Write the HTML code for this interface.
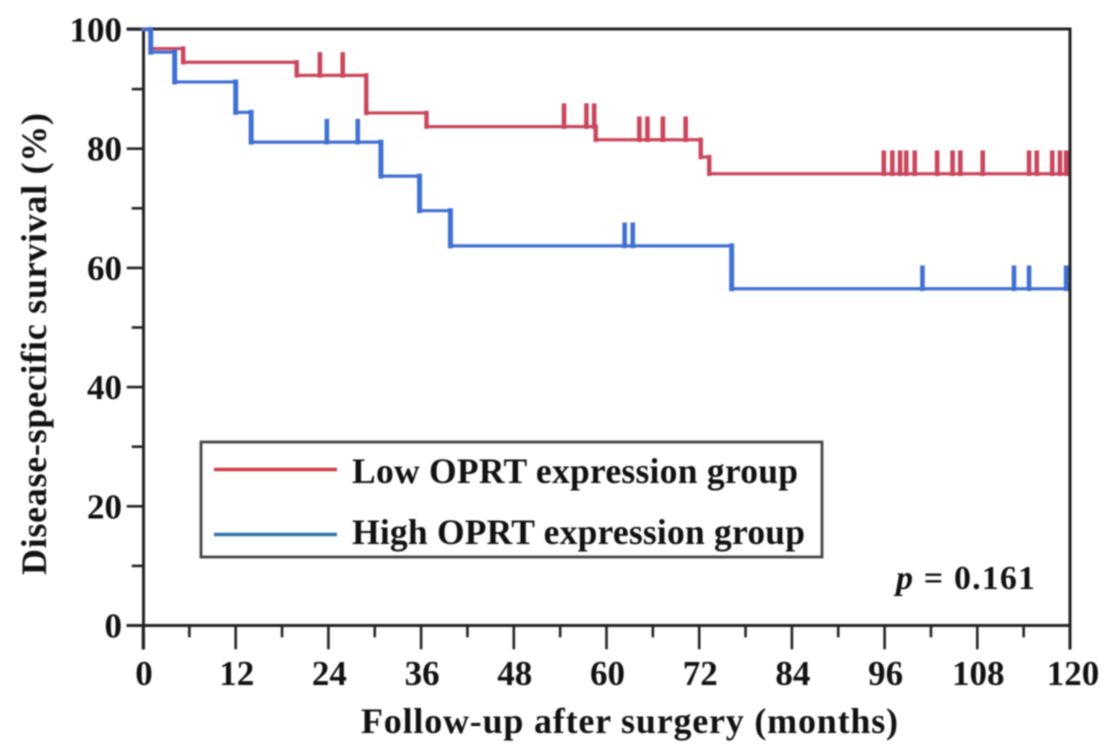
<!DOCTYPE html>
<html>
<head>
<meta charset="utf-8">
<title>Disease-specific survival by OPRT expression</title>
<style>
html,body{margin:0;padding:0;background:#fff;width:1116px;height:755px;overflow:hidden}
svg{display:block;filter:blur(0.7px)}
text{font-family:"Liberation Serif",serif;font-weight:bold;fill:#111}
</style>
</head>
<body>
<svg id="chart" xmlns="http://www.w3.org/2000/svg" width="1116" height="755" viewBox="0 0 1116 755">
  <rect x="0" y="0" width="1116" height="755" fill="#fff"/>
  <g id="axes"></g>
  <g id="series"></g>
  <text x="361" y="733" font-size="36" textLength="537">Follow-up after surgery (months)</text>
  <text transform="translate(46,575) rotate(-90)" font-size="36" textLength="462">Disease-specific survival (%)</text>
  <g>
    <rect x="201" y="442" width="621" height="115" fill="#fff" stroke="#444" stroke-width="2.8"/>
    <line x1="214" x2="337" y1="469.5" y2="469.5" stroke="#cf3a48" stroke-width="3.4"/>
    <text x="352" y="483" font-size="35.5" textLength="446">Low OPRT expression group</text>
    <line x1="214" x2="337" y1="534.5" y2="534.5" stroke="#2f74a8" stroke-width="3.4"/>
    <text x="352" y="544" font-size="35.5" textLength="453">High OPRT expression group</text>
  </g>
  <text x="896" y="589" font-size="34" textLength="139"><tspan font-style="italic">p</tspan> = 0.161</text>
</svg>
<script>
const xMajorTicks = [0, 12, 24, 36, 48, 60, 72, 84, 96, 108, 120];
const xMinorTicks = [6, 18, 30, 42, 54, 66, 78, 90, 102, 114];
const yMajorTicks = [0, 20, 40, 60, 80, 100];
const yMinorTicks = [10, 30, 50, 70, 90];

const lowTimes = [1, 5.2, 19.9, 28.9, 36.7, 58.6, 72.2, 73.3];
const lowSurvival = [96.8, 94.5, 92.3, 86, 83.7, 81.5, 78.6, 75.8];
const lowCensored = [22.9, 25.85, 54.5, 57.4, 58.4, 64.25, 65.3, 67.3, 70.25, 95.9, 97, 98, 98.8, 99.9, 102.8, 104.8, 105.8, 108.7, 114.7, 115.7, 117.7, 118.7, 119.5];

const highTimes = [1, 4.1, 12, 14, 30.8, 35.8, 39.8, 76.2];
const highSurvival = [96.2, 91.2, 86.1, 81.1, 75.4, 69.6, 63.7, 56.5];
const highCensored = [23.8, 27.8, 62.35, 63.4, 100.9, 112.75, 114.7, 119.5];

const followUpEnd = 119.6;

const NS = 'http://www.w3.org/2000/svg';
const xScale = m => 143 + (1070 - 143) * m / 120;
const yScale = v => 625.5 - (625.5 - 29.5) * v / 100;

function makeLine(parent, x1, y1, x2, y2, color, width) {
  const el = document.createElementNS(NS, 'line');
  el.setAttribute('x1', x1);
  el.setAttribute('y1', y1);
  el.setAttribute('x2', x2);
  el.setAttribute('y2', y2);
  el.setAttribute('stroke', color);
  el.setAttribute('stroke-width', width);
  el.setAttribute('stroke-linecap', 'square');
  parent.appendChild(el);
  return el;
}

function makeLabel(parent, x, y, anchor, content) {
  const el = document.createElementNS(NS, 'text');
  el.setAttribute('x', x);
  el.setAttribute('y', y);
  el.setAttribute('text-anchor', anchor);
  el.setAttribute('font-size', '35');
  el.textContent = content;
  parent.appendChild(el);
  return el;
}

const axes = document.getElementById('axes');
const AXIS = '#222';

xMajorTicks.forEach(t => {
  const tick = makeLine(axes, xScale(t), 626, xScale(t), 648, AXIS, 2.6);
  
  
  const label = makeLabel(axes, xScale(t) + (t === 120 ? 3 : 1), 685, 'middle', String(t));
  
  
});
xMinorTicks.forEach(t => {
  const tick = makeLine(axes, xScale(t), 626, xScale(t), 636, AXIS, 2.6);
  
  
});
yMajorTicks.forEach(v => {
  const tick = makeLine(axes, 128, yScale(v), 143, yScale(v), AXIS, 2.6);
  
  
  const label = makeLabel(axes, 122, yScale(v) + 12, 'end', String(v));
  
  
});
yMinorTicks.forEach(v => {
  const tick = makeLine(axes, 133, yScale(v), 143, yScale(v), AXIS, 2.6);
  
  
});

const yAxisLine = makeLine(axes, 143.5, 29, 143.5, 648, AXIS, 3);


const xAxisLine = makeLine(axes, 128, 625.5, 1070, 625.5, AXIS, 3);


const topFrame = makeLine(axes, 128, 29, 1070, 29, AXIS, 3);


const rightFrame = makeLine(axes, 1070, 29, 1070, 648, AXIS, 3);



function levelAt(times, survival, t) {
  let level = 100;
  times.forEach((time, i) => {
    if (time <= t) level = survival[i];
  });
  return level;
}

function drawSeries(name, times, survival, censored, color, vWidth) {
  const group = document.createElementNS(NS, 'g');
  
  
  document.getElementById('series').appendChild(group);

  let prevT = 0;
  let prevV = 100;
  times.forEach((t, i) => {
    const h = makeLine(group, xScale(prevT), yScale(prevV), xScale(t), yScale(prevV), color, 3.2);
    
    
    const v = makeLine(group, xScale(t), yScale(prevV), xScale(t), yScale(survival[i]), color, vWidth);
    
    
    prevT = t;
    prevV = survival[i];
  });
  const tail = makeLine(group, xScale(prevT), yScale(prevV), xScale(followUpEnd), yScale(prevV), color, 3.2);
  
  

  censored.forEach(t => {
    const level = yScale(levelAt(times, survival, t));
    const mark = makeLine(group, xScale(t), level, xScale(t), level - 21, color, 4.6);
    
    
  });
}

drawSeries('low-oprt', lowTimes, lowSurvival, lowCensored, '#c9465c', 4.4);
drawSeries('high-oprt', highTimes, highSurvival, highCensored, '#4070d2', 5);
</script>
</body>
</html>
